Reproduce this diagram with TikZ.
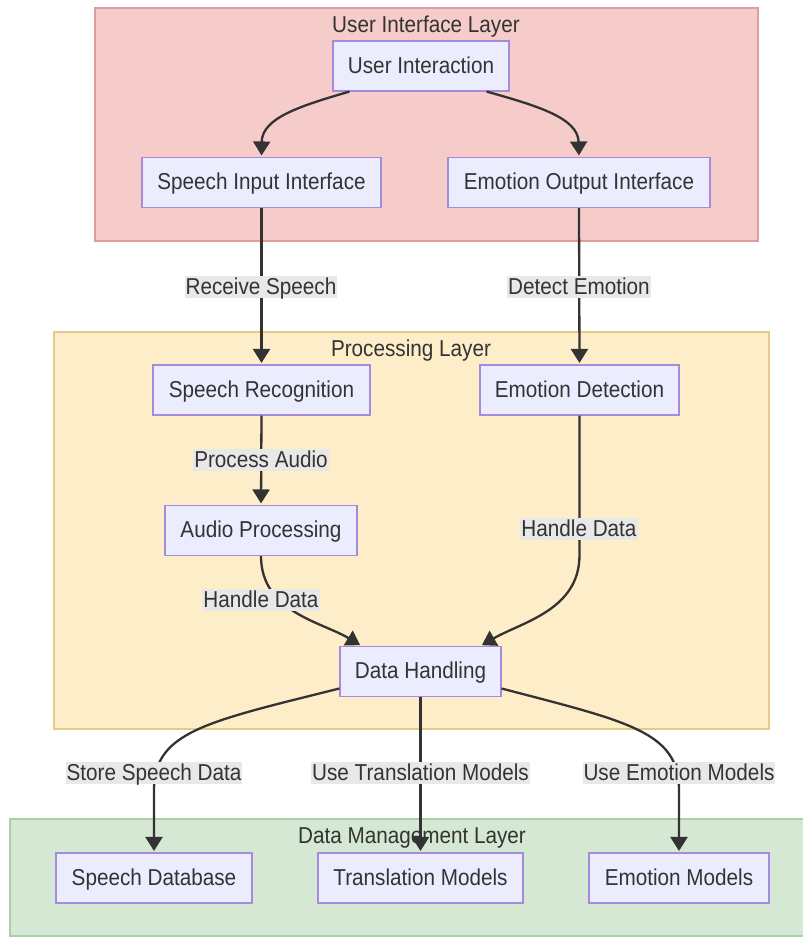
\documentclass[tikz,border=0pt]{standalone}
\usepackage{fontspec}
\setmainfont{Liberation Sans}[FakeStretch=0.9]
\usetikzlibrary{arrows.meta}

\definecolor{uiFill}{HTML}{F6CCCB}
\definecolor{uiLine}{HTML}{DE9E9E}
\definecolor{procFill}{HTML}{FEEDC9}
\definecolor{procLine}{HTML}{E6CB86}
\definecolor{dataFill}{HTML}{D5E8D4}
\definecolor{dataLine}{HTML}{A9D0A6}
\definecolor{boxFill}{HTML}{ECECFF}
\definecolor{boxLine}{HTML}{A58BDC}
\definecolor{ink}{HTML}{333333}
\definecolor{lblFill}{HTML}{E8E8E8}

\tikzset{
  txt/.style={font=\fontsize{23}{26}\selectfont, text=ink,
              text height=18pt, text depth=3.3pt},
  box/.style={txt, draw=boxLine, fill=boxFill, line width=1.1pt,
              minimum height=50pt, inner sep=0pt},
  lbl/.style={txt, fill=lblFill, inner xsep=1pt, inner ysep=0.5pt},
  ttl/.style={txt, inner sep=0pt},
  arr/.style={draw=ink, line width=2.3pt,
              -{Triangle[length=14pt,width=17pt]}, shorten >=1.5pt},
  layer/.style={line width=1.1pt}
}

\begin{document}
\begin{tikzpicture}[x=1pt,y=-1pt]
  \useasboundingbox (0,0) rectangle (803,938);

  % layer backgrounds
  \draw[layer, fill=uiFill, draw=uiLine] (95,8) rectangle (758,241);
  \draw[layer, fill=procFill, draw=procLine] (54,332) rectangle (769,729);
  \draw[layer, fill=dataFill, draw=dataLine] (10,819) rectangle (806,936);

  \node[ttl] (tUI)   at (426,25)  {User Interface Layer};
  \node[ttl] (tProc) at (411,349) {Processing Layer};
  \node[ttl] (tData) at (412,836) {Data Management Layer};

  % components
  \node[box, minimum width=176pt] (ui)  at (421,66)    {User Interaction};
  \node[box, minimum width=239pt] (sii) at (261.5,182.5) {Speech Input Interface};
  \node[box, minimum width=262pt] (eoi) at (579,182.5) {Emotion Output Interface};
  \node[box, minimum width=217pt] (sr)  at (261.5,390) {Speech Recognition};
  \node[box, minimum width=199pt] (ed)  at (579.5,390) {Emotion Detection};
  \node[box, minimum width=192pt] (ap)  at (261,530.5) {Audio Processing};
  \node[box, minimum width=161pt] (dh)  at (420.5,671.5) {Data Handling};
  \node[box, minimum width=196pt] (sdb) at (154,878)   {Speech Database};
  \node[box, minimum width=205pt] (tm)  at (420.5,878) {Translation Models};
  \node[box, minimum width=180pt] (em)  at (679,878)   {Emotion Models};

  % connectors
  \draw[arr] ([xshift=17pt]ui.south west) .. controls (300,106) and (262,118) .. (sii.north);
  \draw[arr] ([xshift=-23pt]ui.south east) .. controls (538,106) and (578,118) .. (eoi.north);
  \draw[arr] (sii.south) -- (sr.north);
  \draw[arr] (eoi.south) -- (ed.north);
  \draw[arr] (sr.south) -- (ap.north);
  \draw[arr] (ap.south) .. controls (261,612) and (322,622) .. ([xshift=22pt]dh.north west);
  \draw[arr] (ed.south) -- (579.5,555) .. controls (579.5,610) and (522,622) .. ([xshift=-21pt]dh.north east);
  \draw[arr] ([yshift=-17pt]dh.west) .. controls (205,722) and (154,732) .. (154,790) -- (sdb.north);
  \draw[arr] (dh.south) -- (tm.north);
  \draw[arr] ([yshift=-17pt]dh.east) .. controls (630,722) and (679,732) .. (679,790) -- (em.north);

  % connector labels
  \node[lbl] (l1) at (261,287) {Receive Speech};
  \node[lbl] (l2) at (579,287) {Detect Emotion};
  \node[lbl] (l3) at (261,460) {Process Audio};
  \node[lbl] (l4) at (261,600) {Handle Data};
  \node[lbl] (l5) at (579,529) {Handle Data};
  \node[lbl] (l6) at (154,773) {Store Speech Data};
  \node[lbl] (l7) at (420.5,773) {Use Translation Models};
  \node[lbl] (l8) at (679,773) {Use Emotion Models};
\end{tikzpicture}
\end{document}
